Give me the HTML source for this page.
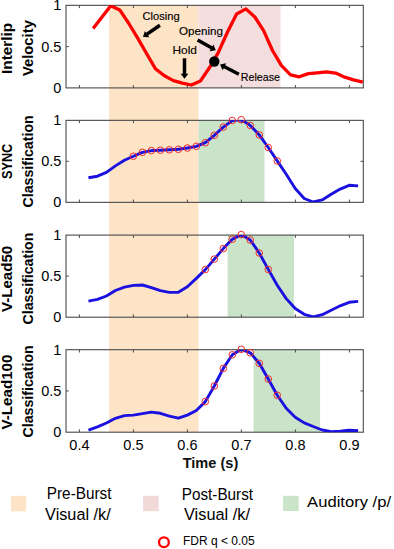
<!DOCTYPE html><html><head><meta charset="utf-8"><style>html,body{margin:0;padding:0;background:#fff;width:394px;height:549px;overflow:hidden}svg{display:block}text{font-family:"Liberation Sans",sans-serif}</style></head><body>
<svg width="394" height="549" viewBox="0 0 394 549">
<rect x="0" y="0" width="394" height="549" fill="#fff"/>
<rect x="109.1" y="5.33" width="89.40" height="426.87" fill="#fde4c6"/>
<rect x="198.5" y="5.33" width="82.10" height="82.57" fill="#f4dedd"/>
<rect x="198.50" y="120.35" width="66.00" height="82.00" fill="#cae4c9"/>
<rect x="227.60" y="235.10" width="66.50" height="82.10" fill="#cae4c9"/>
<rect x="253.50" y="349.70" width="66.60" height="82.50" fill="#cae4c9"/>
<rect x="66.00" y="5.33" width="297.30" height="82.57" fill="none" stroke="#4a4a4a" stroke-width="1.1"/>
<path d="M79.40,5.33 v2.8 M79.40,87.90 v-2.8 M133.40,5.33 v2.8 M133.40,87.90 v-2.8 M187.40,5.33 v2.8 M187.40,87.90 v-2.8 M241.40,5.33 v2.8 M241.40,87.90 v-2.8 M295.40,5.33 v2.8 M295.40,87.90 v-2.8 M349.40,5.33 v2.8 M349.40,87.90 v-2.8 M66.00,46.62 h2.8 M363.30,46.62 h-2.8" stroke="#4a4a4a" stroke-width="1" fill="none"/>
<text x="61.3" y="10.43" font-size="14.5" text-anchor="end" fill="#000">1</text>
<text x="61.3" y="51.72" font-size="14.5" text-anchor="end" fill="#000">0.5</text>
<text x="61.3" y="93.00" font-size="14.5" text-anchor="end" fill="#000">0</text>
<rect x="66.00" y="120.35" width="297.30" height="82.00" fill="none" stroke="#4a4a4a" stroke-width="1.1"/>
<path d="M79.40,120.35 v2.8 M79.40,202.35 v-2.8 M133.40,120.35 v2.8 M133.40,202.35 v-2.8 M187.40,120.35 v2.8 M187.40,202.35 v-2.8 M241.40,120.35 v2.8 M241.40,202.35 v-2.8 M295.40,120.35 v2.8 M295.40,202.35 v-2.8 M349.40,120.35 v2.8 M349.40,202.35 v-2.8 M66.00,161.35 h2.8 M363.30,161.35 h-2.8" stroke="#4a4a4a" stroke-width="1" fill="none"/>
<text x="61.3" y="125.45" font-size="14.5" text-anchor="end" fill="#000">1</text>
<text x="61.3" y="166.45" font-size="14.5" text-anchor="end" fill="#000">0.5</text>
<text x="61.3" y="207.45" font-size="14.5" text-anchor="end" fill="#000">0</text>
<rect x="66.00" y="235.10" width="297.30" height="82.10" fill="none" stroke="#4a4a4a" stroke-width="1.1"/>
<path d="M79.40,235.10 v2.8 M79.40,317.20 v-2.8 M133.40,235.10 v2.8 M133.40,317.20 v-2.8 M187.40,235.10 v2.8 M187.40,317.20 v-2.8 M241.40,235.10 v2.8 M241.40,317.20 v-2.8 M295.40,235.10 v2.8 M295.40,317.20 v-2.8 M349.40,235.10 v2.8 M349.40,317.20 v-2.8 M66.00,276.15 h2.8 M363.30,276.15 h-2.8" stroke="#4a4a4a" stroke-width="1" fill="none"/>
<text x="61.3" y="240.20" font-size="14.5" text-anchor="end" fill="#000">1</text>
<text x="61.3" y="281.25" font-size="14.5" text-anchor="end" fill="#000">0.5</text>
<text x="61.3" y="322.30" font-size="14.5" text-anchor="end" fill="#000">0</text>
<rect x="66.00" y="349.70" width="297.30" height="82.50" fill="none" stroke="#4a4a4a" stroke-width="1.1"/>
<path d="M79.40,349.70 v2.8 M79.40,432.20 v-2.8 M133.40,349.70 v2.8 M133.40,432.20 v-2.8 M187.40,349.70 v2.8 M187.40,432.20 v-2.8 M241.40,349.70 v2.8 M241.40,432.20 v-2.8 M295.40,349.70 v2.8 M295.40,432.20 v-2.8 M349.40,349.70 v2.8 M349.40,432.20 v-2.8 M66.00,390.95 h2.8 M363.30,390.95 h-2.8" stroke="#4a4a4a" stroke-width="1" fill="none"/>
<text x="61.3" y="354.80" font-size="14.5" text-anchor="end" fill="#000">1</text>
<text x="61.3" y="396.05" font-size="14.5" text-anchor="end" fill="#000">0.5</text>
<text x="61.3" y="437.30" font-size="14.5" text-anchor="end" fill="#000">0</text>
<text x="79.40" y="450.3" font-size="14.5" text-anchor="middle" fill="#000">0.4</text>
<text x="133.40" y="450.3" font-size="14.5" text-anchor="middle" fill="#000">0.5</text>
<text x="187.40" y="450.3" font-size="14.5" text-anchor="middle" fill="#000">0.6</text>
<text x="241.40" y="450.3" font-size="14.5" text-anchor="middle" fill="#000">0.7</text>
<text x="295.40" y="450.3" font-size="14.5" text-anchor="middle" fill="#000">0.8</text>
<text x="349.40" y="450.3" font-size="14.5" text-anchor="middle" fill="#000">0.9</text>
<text x="210.5" y="467.8" font-size="15" font-weight="bold" text-anchor="middle" textLength="55.6" lengthAdjust="spacingAndGlyphs" fill="#111">Time (s)</text>
<text transform="translate(12.40,48.40) rotate(-90)" font-size="15" font-weight="bold" text-anchor="middle" textLength="51.0" lengthAdjust="spacingAndGlyphs" fill="#000">Interlip</text>
<text transform="translate(33.00,48.10) rotate(-90)" font-size="15" font-weight="bold" text-anchor="middle" textLength="56.0" lengthAdjust="spacingAndGlyphs" fill="#000">Velocity</text>
<text transform="translate(12.40,161.40) rotate(-90)" font-size="15" font-weight="bold" text-anchor="middle" textLength="35.4" lengthAdjust="spacingAndGlyphs" fill="#000">SYNC</text>
<text transform="translate(33.00,161.40) rotate(-90)" font-size="15" font-weight="bold" text-anchor="middle" textLength="92.2" lengthAdjust="spacingAndGlyphs" fill="#000">Classification</text>
<text transform="translate(12.40,278.90) rotate(-90)" font-size="15" font-weight="bold" text-anchor="middle" textLength="66.2" lengthAdjust="spacingAndGlyphs" fill="#000">V-Lead50</text>
<text transform="translate(33.00,278.60) rotate(-90)" font-size="15" font-weight="bold" text-anchor="middle" textLength="91.8" lengthAdjust="spacingAndGlyphs" fill="#000">Classification</text>
<text transform="translate(12.40,392.00) rotate(-90)" font-size="15" font-weight="bold" text-anchor="middle" textLength="74.9" lengthAdjust="spacingAndGlyphs" fill="#000">V-Lead100</text>
<text transform="translate(33.00,391.40) rotate(-90)" font-size="15" font-weight="bold" text-anchor="middle" textLength="92.2" lengthAdjust="spacingAndGlyphs" fill="#000">Classification</text>
<defs><clipPath id="c0"><rect x="66.00" y="5.33" width="297.30" height="82.57"/></clipPath><clipPath id="c1"><rect x="66.00" y="120.35" width="297.30" height="82.00"/></clipPath><clipPath id="c2"><rect x="66.00" y="235.10" width="297.30" height="82.10"/></clipPath><clipPath id="c3"><rect x="66.00" y="349.70" width="297.30" height="82.50"/></clipPath></defs>
<path clip-path="url(#c0)" d="M93.10,28.60 L110.80,5.70 L119.70,9.90 L128.50,23.00 L137.40,37.60 L146.40,53.20 L155.40,68.70 L164.40,75.80 L173.40,80.60 L182.40,83.10 L191.40,85.00 L200.40,81.00 L209.40,67.80 L218.40,52.30 L227.40,32.30 L236.60,14.00 L245.90,8.90 L254.80,17.00 L263.60,30.60 L272.50,50.50 L281.50,65.70 L290.50,74.80 L299.30,76.80 L308.30,73.60 L317.30,72.80 L326.50,71.90 L335.60,73.10 L344.80,77.20 L353.50,79.80 L362.80,82.20" stroke="#ff0000" stroke-width="3.3" fill="none" stroke-linejoin="round"/>
<path clip-path="url(#c1)" d="M88.45,177.80 L97.44,176.20 L106.43,172.40 L115.42,165.90 L124.41,160.20 L133.40,156.20 L142.39,152.30 L151.38,150.60 L160.37,150.20 L169.36,149.80 L178.35,149.30 L187.34,148.00 L196.33,146.30 L205.32,142.70 L214.31,135.30 L223.30,127.10 L232.29,120.50 L241.28,119.70 L250.27,125.40 L259.26,134.90 L268.25,147.50 L277.24,160.90 L286.23,174.30 L295.22,188.50 L304.21,198.50 L313.20,202.00 L322.19,199.90 L331.18,194.30 L340.17,189.10 L349.16,185.30 L358.15,185.90" stroke="#1a10e0" stroke-width="2.9" fill="none" stroke-linejoin="round" stroke-linecap="butt"/>
<circle cx="133.40" cy="156.20" r="3.3" fill="none" stroke="#f02828" stroke-width="1.0"/>
<circle cx="142.39" cy="152.30" r="3.3" fill="none" stroke="#f02828" stroke-width="1.0"/>
<circle cx="151.38" cy="150.60" r="3.3" fill="none" stroke="#f02828" stroke-width="1.0"/>
<circle cx="160.37" cy="150.20" r="3.3" fill="none" stroke="#f02828" stroke-width="1.0"/>
<circle cx="169.36" cy="149.80" r="3.3" fill="none" stroke="#f02828" stroke-width="1.0"/>
<circle cx="178.35" cy="149.30" r="3.3" fill="none" stroke="#f02828" stroke-width="1.0"/>
<circle cx="187.34" cy="148.00" r="3.3" fill="none" stroke="#f02828" stroke-width="1.0"/>
<circle cx="196.33" cy="146.30" r="3.3" fill="none" stroke="#f02828" stroke-width="1.0"/>
<circle cx="205.32" cy="142.70" r="3.3" fill="none" stroke="#f02828" stroke-width="1.0"/>
<circle cx="214.31" cy="135.30" r="3.3" fill="none" stroke="#f02828" stroke-width="1.0"/>
<circle cx="223.30" cy="127.10" r="3.3" fill="none" stroke="#f02828" stroke-width="1.0"/>
<circle cx="232.29" cy="120.50" r="3.3" fill="none" stroke="#f02828" stroke-width="1.0"/>
<circle cx="241.28" cy="119.70" r="3.3" fill="none" stroke="#f02828" stroke-width="1.0"/>
<circle cx="250.27" cy="125.40" r="3.3" fill="none" stroke="#f02828" stroke-width="1.0"/>
<circle cx="259.26" cy="134.90" r="3.3" fill="none" stroke="#f02828" stroke-width="1.0"/>
<circle cx="268.25" cy="147.50" r="3.3" fill="none" stroke="#f02828" stroke-width="1.0"/>
<circle cx="277.24" cy="160.90" r="3.3" fill="none" stroke="#f02828" stroke-width="1.0"/>
<path clip-path="url(#c2)" d="M88.45,301.20 L97.44,299.40 L106.43,296.00 L115.42,290.50 L124.41,287.20 L133.40,285.40 L142.39,285.00 L151.38,287.60 L160.37,290.70 L169.36,292.40 L178.35,292.20 L187.34,286.80 L196.33,278.40 L205.32,269.60 L214.31,259.10 L223.30,248.60 L232.29,239.20 L241.28,234.60 L250.27,240.00 L259.26,253.00 L268.25,269.40 L277.24,285.20 L286.23,298.60 L295.22,308.50 L304.21,314.30 L313.20,316.80 L322.19,314.70 L331.18,310.20 L340.17,305.80 L349.16,302.30 L358.15,301.40" stroke="#1a10e0" stroke-width="2.9" fill="none" stroke-linejoin="round" stroke-linecap="butt"/>
<circle cx="205.32" cy="269.60" r="3.3" fill="none" stroke="#f02828" stroke-width="1.0"/>
<circle cx="214.31" cy="259.10" r="3.3" fill="none" stroke="#f02828" stroke-width="1.0"/>
<circle cx="223.30" cy="248.60" r="3.3" fill="none" stroke="#f02828" stroke-width="1.0"/>
<circle cx="232.29" cy="239.20" r="3.3" fill="none" stroke="#f02828" stroke-width="1.0"/>
<circle cx="241.28" cy="234.60" r="3.3" fill="none" stroke="#f02828" stroke-width="1.0"/>
<circle cx="250.27" cy="240.00" r="3.3" fill="none" stroke="#f02828" stroke-width="1.0"/>
<circle cx="259.26" cy="253.00" r="3.3" fill="none" stroke="#f02828" stroke-width="1.0"/>
<circle cx="268.25" cy="269.40" r="3.3" fill="none" stroke="#f02828" stroke-width="1.0"/>
<path clip-path="url(#c3)" d="M88.45,430.20 L97.44,426.80 L106.43,423.00 L115.42,418.30 L124.41,415.60 L133.40,415.10 L142.39,413.60 L151.38,412.10 L160.37,413.30 L169.36,416.20 L178.35,418.20 L187.34,415.10 L196.33,410.50 L205.32,401.60 L214.31,386.00 L223.30,368.40 L232.29,354.80 L241.28,349.30 L250.27,352.80 L259.26,363.30 L268.25,379.00 L277.24,395.20 L286.23,408.30 L295.22,417.20 L304.21,422.90 L313.20,426.50 L322.19,430.00 L331.18,431.60 L340.17,431.20 L349.16,430.20 L358.15,430.80" stroke="#1a10e0" stroke-width="2.9" fill="none" stroke-linejoin="round" stroke-linecap="butt"/>
<circle cx="205.32" cy="401.60" r="3.3" fill="none" stroke="#f02828" stroke-width="1.0"/>
<circle cx="214.31" cy="386.00" r="3.3" fill="none" stroke="#f02828" stroke-width="1.0"/>
<circle cx="223.30" cy="368.40" r="3.3" fill="none" stroke="#f02828" stroke-width="1.0"/>
<circle cx="232.29" cy="354.80" r="3.3" fill="none" stroke="#f02828" stroke-width="1.0"/>
<circle cx="241.28" cy="349.30" r="3.3" fill="none" stroke="#f02828" stroke-width="1.0"/>
<circle cx="250.27" cy="352.80" r="3.3" fill="none" stroke="#f02828" stroke-width="1.0"/>
<circle cx="259.26" cy="363.30" r="3.3" fill="none" stroke="#f02828" stroke-width="1.0"/>
<circle cx="268.25" cy="379.00" r="3.3" fill="none" stroke="#f02828" stroke-width="1.0"/>
<circle cx="277.24" cy="395.20" r="3.3" fill="none" stroke="#f02828" stroke-width="1.0"/>
<line x1="159.90" y1="25.20" x2="146.69" y2="34.42" stroke="#000" stroke-width="3.50"/>
<polygon points="143.00,37.00 144.87,30.94 149.33,37.34" fill="#000"/>
<line x1="184.50" y1="58.30" x2="184.50" y2="74.30" stroke="#000" stroke-width="3.50"/>
<polygon points="184.50,78.80 180.60,73.80 188.40,73.80" fill="#000"/>
<line x1="197.60" y1="40.00" x2="211.88" y2="48.08" stroke="#000" stroke-width="3.50"/>
<polygon points="215.80,50.30 209.53,51.23 213.37,44.44" fill="#000"/>
<line x1="238.90" y1="74.20" x2="224.00" y2="66.55" stroke="#000" stroke-width="3.50"/>
<polygon points="220.00,64.50 226.23,63.31 222.67,70.25" fill="#000"/>
<circle cx="214.3" cy="61.5" r="5.2" fill="#000"/>
<text x="142.40" y="19.60" font-size="11.2" textLength="37.3" lengthAdjust="spacingAndGlyphs" fill="#000" stroke="#000" stroke-width="0.15">Closing</text>
<text x="172.50" y="53.80" font-size="11.2" textLength="24.4" lengthAdjust="spacingAndGlyphs" fill="#000" stroke="#000" stroke-width="0.15">Hold</text>
<text x="179.10" y="35.30" font-size="11.2" textLength="43.9" lengthAdjust="spacingAndGlyphs" fill="#000" stroke="#000" stroke-width="0.15">Opening</text>
<text x="240.70" y="81.30" font-size="11.2" textLength="39.3" lengthAdjust="spacingAndGlyphs" fill="#000" stroke="#000" stroke-width="0.15">Release</text>
<rect x="10.9" y="495.8" width="15.3" height="15.6" fill="#fde4c6"/>
<rect x="143.1" y="495.8" width="15.6" height="15.4" fill="#f0d9d7"/>
<rect x="283.1" y="495.8" width="15.6" height="15.2" fill="#cae4c9"/>
<text transform="translate(79.15,498.70) scale(1,1.060)" font-size="15.5" text-anchor="middle" textLength="64.7" lengthAdjust="spacingAndGlyphs" fill="#000">Pre-Burst</text>
<text transform="translate(77.90,519.60) scale(1,1.060)" font-size="15.5" text-anchor="middle" textLength="65.6" lengthAdjust="spacingAndGlyphs" fill="#000">Visual /k/</text>
<text transform="translate(217.40,499.50) scale(1,1.060)" font-size="15.5" text-anchor="middle" textLength="71.2" lengthAdjust="spacingAndGlyphs" fill="#000">Post-Burst</text>
<text transform="translate(217.00,520.20) scale(1,1.060)" font-size="15.5" text-anchor="middle" textLength="66.0" lengthAdjust="spacingAndGlyphs" fill="#000">Visual /k/</text>
<text transform="translate(307.10,507.20) scale(1,0.980)" font-size="15.5" text-anchor="start" textLength="84.0" lengthAdjust="spacingAndGlyphs" fill="#000">Auditory /p/</text>
<circle cx="163.9" cy="542.2" r="4.9" fill="none" stroke="#ff0000" stroke-width="2.3"/>
<text transform="translate(182.90,545.00) scale(1,1.100)" font-size="12.0" text-anchor="start" textLength="71.8" lengthAdjust="spacingAndGlyphs" fill="#000">FDR q &lt; 0.05</text>
</svg></body></html>
